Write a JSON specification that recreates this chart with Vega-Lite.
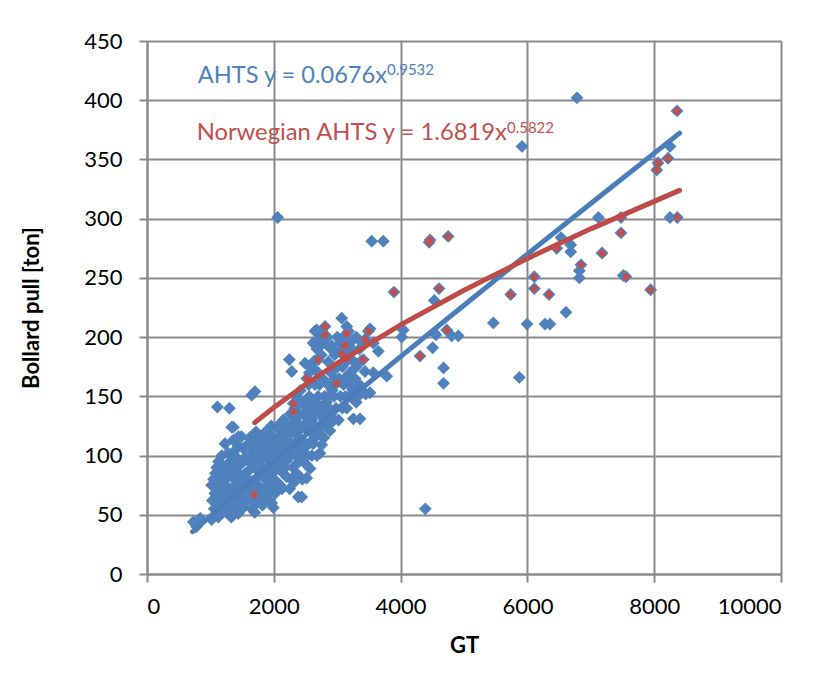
{
  "$schema": "https://vega.github.io/schema/vega-lite/v6.json",
  "width": 634,
  "height": 533,
  "autosize": {"type": "none"},
  "padding": {"left": 147, "top": 41, "right": 53, "bottom": 119},
  "background": "white",
  "config": {
    "view": {"stroke": null},
    "font": "Lato",
    "axis": {
      "gridColor": "#898989", "gridWidth": 2, "gridOpacity": 1,
      "domainColor": "#898989", "domainWidth": 2,
      "tickColor": "#898989", "tickWidth": 2, "tickSize": 8,
      "labelFont": "Lato", "labelFontSize": 22, "labelColor": "#000000",
      "titleFont": "Lato", "titleFontSize": 22, "titleFontWeight": "bold", "titleColor": "#000000"
    }
  },
  "datasets": {
    "ships": [
      {"gt":1690,"bp":67,"nor":1},{"gt":2308,"bp":144,"nor":1},{"gt":2308,"bp":137,"nor":1},{"gt":2519,"bp":165,"nor":1},{"gt":2990,"bp":161,"nor":1},{"gt":2703,"bp":181,"nor":1},{"gt":2808,"bp":209,"nor":1},{"gt":2808,"bp":202,"nor":1},{"gt":3150,"bp":203,"nor":1},{"gt":3491,"bp":205,"nor":1},{"gt":3438,"bp":198,"nor":1},{"gt":3123,"bp":193,"nor":1},{"gt":3071,"bp":186,"nor":1},{"gt":3150,"bp":182,"nor":1},{"gt":3412,"bp":181,"nor":1},{"gt":3896,"bp":238,"nor":1},{"gt":4306,"bp":184,"nor":1},{"gt":4464,"bp":282,"nor":1},{"gt":4450,"bp":280,"nor":1},{"gt":4750,"bp":285,"nor":1},{"gt":4606,"bp":241,"nor":1},{"gt":4727,"bp":206,"nor":1},{"gt":5736,"bp":236,"nor":1},{"gt":6109,"bp":251,"nor":1},{"gt":6109,"bp":241,"nor":1},{"gt":6341,"bp":236,"nor":1},{"gt":6462,"bp":275,"nor":1},{"gt":6845,"bp":261,"nor":1},{"gt":7177,"bp":271,"nor":1},{"gt":7476,"bp":301,"nor":1},{"gt":7476,"bp":288,"nor":1},{"gt":7555,"bp":251,"nor":1},{"gt":7944,"bp":240,"nor":1},{"gt":8364,"bp":301,"nor":1},{"gt":8360,"bp":391,"nor":1},{"gt":8218,"bp":351,"nor":1},{"gt":8060,"bp":347,"nor":1},{"gt":8040,"bp":341,"nor":1},
      {"gt":730,"bp":44,"nor":0},{"gt":780,"bp":40,"nor":0},{"gt":840,"bp":47,"nor":0},{"gt":1020,"bp":46,"nor":0},{"gt":1125,"bp":48,"nor":0},{"gt":1150,"bp":54,"nor":0},{"gt":1440,"bp":51,"nor":0},{"gt":1520,"bp":56,"nor":0},
      {"gt":1110,"bp":141,"nor":0},{"gt":1300,"bp":140,"nor":0},{"gt":1651,"bp":151,"nor":0},{"gt":1703,"bp":154,"nor":0},{"gt":1362,"bp":124,"nor":0},{"gt":1336,"bp":124,"nor":0},{"gt":1441,"bp":116,"nor":0},
      {"gt":2061,"bp":301,"nor":0},{"gt":3544,"bp":281,"nor":0},{"gt":3728,"bp":281,"nor":0},{"gt":5915,"bp":361,"nor":0},{"gt":6782,"bp":402,"nor":0},{"gt":8250,"bp":361,"nor":0},{"gt":8249,"bp":301,"nor":0},{"gt":7120,"bp":301,"nor":0},
      {"gt":6530,"bp":284,"nor":0},{"gt":6683,"bp":278,"nor":0},{"gt":6683,"bp":272,"nor":0},{"gt":6820,"bp":256,"nor":0},{"gt":6820,"bp":250,"nor":0},{"gt":7513,"bp":252,"nor":0},{"gt":6609,"bp":221,"nor":0},{"gt":5463,"bp":212,"nor":0},{"gt":5994,"bp":211,"nor":0},{"gt":6278,"bp":211,"nor":0},{"gt":6356,"bp":211,"nor":0},
      {"gt":4532,"bp":231,"nor":0},{"gt":4558,"bp":202,"nor":0},{"gt":4806,"bp":201,"nor":0},{"gt":4910,"bp":201,"nor":0},{"gt":4043,"bp":206,"nor":0},{"gt":4017,"bp":200,"nor":0},{"gt":4506,"bp":191,"nor":0},{"gt":4677,"bp":174,"nor":0},{"gt":4677,"bp":161,"nor":0},{"gt":5873,"bp":166,"nor":0},{"gt":4390,"bp":55,"nor":0},
      {"gt":3071,"bp":216,"nor":0},{"gt":2650,"bp":205,"nor":0},{"gt":2755,"bp":205,"nor":0},{"gt":3150,"bp":209,"nor":0},{"gt":3517,"bp":207,"nor":0},{"gt":2676,"bp":206,"nor":0},{"gt":2886,"bp":191,"nor":0},{"gt":2245,"bp":181,"nor":0},{"gt":2282,"bp":171,"nor":0},{"gt":2492,"bp":178,"nor":0},{"gt":2571,"bp":175,"nor":0},{"gt":2939,"bp":172,"nor":0},{"gt":3150,"bp":167,"nor":0},{"gt":3438,"bp":171,"nor":0},{"gt":3649,"bp":188,"nor":0},{"gt":3570,"bp":195,"nor":0},{"gt":2860,"bp":179,"nor":0},{"gt":3255,"bp":131,"nor":0},{"gt":3360,"bp":131,"nor":0},{"gt":3781,"bp":167,"nor":0},{"gt":3570,"bp":170,"nor":0},{"gt":3517,"bp":153,"nor":0},{"gt":3450,"bp":152,"nor":0},{"gt":2886,"bp":121,"nor":0},
      {"gt":1050,"bp":80,"nor":0},{"gt":1100,"bp":74,"nor":0},{"gt":1020,"bp":75,"nor":0},{"gt":1070,"bp":68,"nor":0},{"gt":1200,"bp":84,"nor":0},{"gt":1210,"bp":60,"nor":0},{"gt":1260,"bp":92,"nor":0},{"gt":1280,"bp":102,"nor":0},{"gt":1310,"bp":95,"nor":0},{"gt":1310,"bp":72,"nor":0},{"gt":1360,"bp":81,"nor":0},{"gt":1360,"bp":113,"nor":0},{"gt":1410,"bp":64,"nor":0},{"gt":1440,"bp":108,"nor":0},{"gt":1490,"bp":116,"nor":0},{"gt":1150,"bp":65,"nor":0},{"gt":1250,"bp":70,"nor":0},{"gt":1300,"bp":60,"nor":0},{"gt":1350,"bp":55,"nor":0},{"gt":1400,"bp":75,"nor":0},{"gt":1450,"bp":85,"nor":0},{"gt":1480,"bp":95,"nor":0},{"gt":1100,"bp":90,"nor":0},{"gt":1180,"bp":100,"nor":0},{"gt":1230,"bp":110,"nor":0},{"gt":1330,"bp":100,"nor":0},{"gt":1380,"bp":90,"nor":0},{"gt":1500,"bp":70,"nor":0},{"gt":1470,"bp":60,"nor":0},{"gt":1150,"bp":78,"nor":0},{"gt":1280,"bp":82,"nor":0},{"gt":1390,"bp":68,"nor":0},
      {"gt":1570,"bp":74,"nor":0},{"gt":1570,"bp":99,"nor":0},{"gt":1625,"bp":94,"nor":0},{"gt":1730,"bp":60,"nor":0},{"gt":1782,"bp":96,"nor":0},{"gt":1835,"bp":63,"nor":0},{"gt":1888,"bp":102,"nor":0},{"gt":1940,"bp":74,"nor":0},{"gt":1966,"bp":60,"nor":0},{"gt":1993,"bp":56,"nor":0},{"gt":2019,"bp":68,"nor":0},{"gt":1550,"bp":85,"nor":0},{"gt":1600,"bp":65,"nor":0},{"gt":1650,"bp":78,"nor":0},{"gt":1700,"bp":90,"nor":0},{"gt":1750,"bp":75,"nor":0},{"gt":1800,"bp":85,"nor":0},{"gt":1850,"bp":110,"nor":0},{"gt":1900,"bp":90,"nor":0},{"gt":1950,"bp":95,"nor":0},{"gt":1600,"bp":110,"nor":0},{"gt":1680,"bp":105,"nor":0},{"gt":1720,"bp":120,"nor":0},{"gt":1780,"bp":70,"nor":0},{"gt":1820,"bp":58,"nor":0},{"gt":1870,"bp":80,"nor":0},{"gt":1920,"bp":115,"nor":0},{"gt":1960,"bp":125,"nor":0},{"gt":1650,"bp":55,"nor":0},{"gt":1700,"bp":52,"nor":0},{"gt":1880,"bp":66,"nor":0},{"gt":1760,"bp":105,"nor":0},{"gt":1540,"bp":60,"nor":0},{"gt":1980,"bp":85,"nor":0},{"gt":1940,"bp":123,"nor":0},{"gt":2045,"bp":124,"nor":0},
      {"gt":2098,"bp":108,"nor":0},{"gt":2256,"bp":119,"nor":0},{"gt":2413,"bp":113,"nor":0},{"gt":2519,"bp":122,"nor":0},{"gt":2203,"bp":82,"nor":0},{"gt":2334,"bp":78,"nor":0},{"gt":2361,"bp":85,"nor":0},{"gt":2203,"bp":96,"nor":0},{"gt":2361,"bp":99,"nor":0},{"gt":2519,"bp":92,"nor":0},{"gt":2387,"bp":65,"nor":0},{"gt":2440,"bp":65,"nor":0},{"gt":2050,"bp":90,"nor":0},{"gt":2100,"bp":75,"nor":0},{"gt":2150,"bp":130,"nor":0},{"gt":2250,"bp":100,"nor":0},{"gt":2300,"bp":125,"nor":0},{"gt":2350,"bp":150,"nor":0},{"gt":2400,"bp":135,"nor":0},{"gt":2450,"bp":105,"nor":0},{"gt":2480,"bp":145,"nor":0},{"gt":2050,"bp":105,"nor":0},{"gt":2120,"bp":118,"nor":0},{"gt":2320,"bp":110,"nor":0},{"gt":2420,"bp":155,"nor":0},{"gt":2470,"bp":125,"nor":0},{"gt":2100,"bp":95,"nor":0},{"gt":2150,"bp":85,"nor":0},{"gt":2250,"bp":72,"nor":0},{"gt":2300,"bp":90,"nor":0},{"gt":2400,"bp":95,"nor":0},{"gt":2450,"bp":80,"nor":0},{"gt":2500,"bp":110,"nor":0},{"gt":2160,"bp":105,"nor":0},{"gt":2380,"bp":120,"nor":0},{"gt":2260,"bp":135,"nor":0},
      {"gt":2519,"bp":81,"nor":0},{"gt":2571,"bp":89,"nor":0},{"gt":2729,"bp":102,"nor":0},{"gt":2755,"bp":109,"nor":0},{"gt":2550,"bp":130,"nor":0},{"gt":2600,"bp":145,"nor":0},{"gt":2650,"bp":160,"nor":0},{"gt":2700,"bp":120,"nor":0},{"gt":2750,"bp":140,"nor":0},{"gt":2800,"bp":150,"nor":0},{"gt":2850,"bp":160,"nor":0},{"gt":2900,"bp":135,"nor":0},{"gt":2950,"bp":150,"nor":0},{"gt":2600,"bp":100,"nor":0},{"gt":2650,"bp":115,"nor":0},{"gt":2700,"bp":170,"nor":0},{"gt":2550,"bp":160,"nor":0},{"gt":2600,"bp":175,"nor":0},{"gt":2750,"bp":185,"nor":0},{"gt":2800,"bp":130,"nor":0},{"gt":2850,"bp":125,"nor":0},{"gt":2950,"bp":130,"nor":0},{"gt":2550,"bp":110,"nor":0},{"gt":2650,"bp":135,"nor":0},{"gt":2700,"bp":150,"nor":0},{"gt":2900,"bp":170,"nor":0},{"gt":2980,"bp":140,"nor":0},{"gt":2620,"bp":195,"nor":0},{"gt":2700,"bp":198,"nor":0},{"gt":2770,"bp":165,"nor":0},{"gt":2580,"bp":120,"nor":0},{"gt":2680,"bp":100,"nor":0},{"gt":2913,"bp":193,"nor":0},{"gt":3044,"bp":189,"nor":0},
      {"gt":3050,"bp":150,"nor":0},{"gt":3100,"bp":160,"nor":0},{"gt":3150,"bp":140,"nor":0},{"gt":3200,"bp":170,"nor":0},{"gt":3250,"bp":180,"nor":0},{"gt":3300,"bp":175,"nor":0},{"gt":3350,"bp":190,"nor":0},{"gt":3050,"bp":195,"nor":0},{"gt":3100,"bp":200,"nor":0},{"gt":3200,"bp":195,"nor":0},{"gt":3300,"bp":200,"nor":0},{"gt":3020,"bp":130,"nor":0},{"gt":3080,"bp":140,"nor":0},{"gt":3150,"bp":190,"nor":0},{"gt":3250,"bp":155,"nor":0},{"gt":3000,"bp":175,"nor":0},{"gt":3120,"bp":178,"nor":0},{"gt":3200,"bp":150,"nor":0},{"gt":3300,"bp":145,"nor":0},{"gt":3350,"bp":160,"nor":0},
      {"gt":1120,"bp":60,"nor":0},{"gt":1180,"bp":70,"nor":0},{"gt":1240,"bp":80,"nor":0},{"gt":1320,"bp":88,"nor":0},{"gt":1420,"bp":98,"nor":0},{"gt":1520,"bp":106,"nor":0},{"gt":1620,"bp":88,"nor":0},{"gt":1680,"bp":70,"nor":0},{"gt":1740,"bp":88,"nor":0},{"gt":1820,"bp":98,"nor":0},{"gt":1900,"bp":105,"nor":0},{"gt":2000,"bp":100,"nor":0},{"gt":2080,"bp":115,"nor":0},{"gt":2180,"bp":125,"nor":0},{"gt":2230,"bp":110,"nor":0},{"gt":2330,"bp":140,"nor":0},{"gt":2430,"bp":145,"nor":0},{"gt":2530,"bp":140,"nor":0},{"gt":2600,"bp":130,"nor":0},{"gt":2560,"bp":150,"nor":0},{"gt":2640,"bp":125,"nor":0},{"gt":2720,"bp":135,"nor":0},{"gt":2820,"bp":140,"nor":0},{"gt":2880,"bp":150,"nor":0},{"gt":2200,"bp":115,"nor":0},{"gt":2000,"bp":80,"nor":0},{"gt":1900,"bp":75,"nor":0},{"gt":1850,"bp":70,"nor":0},{"gt":1400,"bp":105,"nor":0},{"gt":1480,"bp":78,"nor":0},{"gt":1560,"bp":66,"nor":0},{"gt":1260,"bp":52,"nor":0},
      {"gt":1030,"bp":62,"nor":0},{"gt":1080,"bp":85,"nor":0},{"gt":1130,"bp":95,"nor":0},{"gt":1170,"bp":88,"nor":0},{"gt":1220,"bp":75,"nor":0},{"gt":1270,"bp":65,"nor":0},{"gt":1340,"bp":70,"nor":0},{"gt":1370,"bp":60,"nor":0},{"gt":1430,"bp":72,"nor":0},{"gt":1460,"bp":92,"nor":0},{"gt":1500,"bp":82,"nor":0},{"gt":1520,"bp":95,"nor":0},{"gt":1060,"bp":55,"nor":0},{"gt":1190,"bp":52,"nor":0},{"gt":1330,"bp":48,"nor":0},{"gt":1420,"bp":58,"nor":0},
      {"gt":1580,"bp":80,"nor":0},{"gt":1630,"bp":100,"nor":0},{"gt":1660,"bp":62,"nor":0},{"gt":1710,"bp":80,"nor":0},{"gt":1770,"bp":62,"nor":0},{"gt":1790,"bp":92,"nor":0},{"gt":1840,"bp":88,"nor":0},{"gt":1860,"bp":100,"nor":0},{"gt":1910,"bp":62,"nor":0},{"gt":1930,"bp":85,"nor":0},{"gt":1970,"bp":108,"nor":0},{"gt":1990,"bp":115,"nor":0},{"gt":1620,"bp":115,"nor":0},{"gt":1700,"bp":112,"nor":0},{"gt":1800,"bp":115,"nor":0},{"gt":1870,"bp":120,"nor":0},{"gt":1540,"bp":98,"nor":0},{"gt":1750,"bp":98,"nor":0},
      {"gt":2020,"bp":110,"nor":0},{"gt":2070,"bp":125,"nor":0},{"gt":2110,"bp":100,"nor":0},{"gt":2140,"bp":112,"nor":0},{"gt":2180,"bp":90,"nor":0},{"gt":2230,"bp":125,"nor":0},{"gt":2270,"bp":110,"nor":0},{"gt":2300,"bp":102,"nor":0},{"gt":2350,"bp":118,"nor":0},{"gt":2380,"bp":105,"nor":0},{"gt":2420,"bp":125,"nor":0},{"gt":2460,"bp":135,"nor":0},{"gt":2490,"bp":100,"nor":0},{"gt":2040,"bp":78,"nor":0},{"gt":2130,"bp":72,"nor":0},{"gt":2280,"bp":80,"nor":0},{"gt":2340,"bp":130,"nor":0},
      {"gt":2530,"bp":100,"nor":0},{"gt":2580,"bp":140,"nor":0},{"gt":2620,"bp":110,"nor":0},{"gt":2670,"bp":145,"nor":0},{"gt":2720,"bp":160,"nor":0},{"gt":2760,"bp":125,"nor":0},{"gt":2790,"bp":115,"nor":0},{"gt":2830,"bp":145,"nor":0},{"gt":2870,"bp":140,"nor":0},{"gt":2920,"bp":155,"nor":0},{"gt":2960,"bp":165,"nor":0},{"gt":2560,"bp":170,"nor":0},{"gt":2640,"bp":180,"nor":0},{"gt":2680,"bp":190,"nor":0},{"gt":2780,"bp":195,"nor":0},{"gt":2840,"bp":200,"nor":0},{"gt":2960,"bp":185,"nor":0},{"gt":3000,"bp":200,"nor":0},
      {"gt":3030,"bp":165,"nor":0},{"gt":3080,"bp":175,"nor":0},{"gt":3130,"bp":150,"nor":0},{"gt":3180,"bp":160,"nor":0},{"gt":3230,"bp":190,"nor":0},{"gt":3280,"bp":165,"nor":0},{"gt":3330,"bp":150,"nor":0},{"gt":3380,"bp":180,"nor":0},{"gt":3400,"bp":195,"nor":0},{"gt":3180,"bp":205,"nor":0}
    ],
    "trend": [
      {"series":"AHTS","gt":720,"bp":35.7},{"series":"AHTS","gt":1000,"bp":48.9},{"series":"AHTS","gt":1500,"bp":72.0},{"series":"AHTS","gt":2000,"bp":94.8},{"series":"AHTS","gt":3000,"bp":139.5},{"series":"AHTS","gt":4000,"bp":183.5},{"series":"AHTS","gt":5000,"bp":226.9},{"series":"AHTS","gt":6000,"bp":270.1},{"series":"AHTS","gt":7000,"bp":312.8},{"series":"AHTS","gt":8400,"bp":372.2},
      {"series":"Norwegian AHTS","gt":1700,"bp":127.8},{"series":"Norwegian AHTS","gt":2000,"bp":140.5},{"series":"Norwegian AHTS","gt":2500,"bp":160.0},{"series":"Norwegian AHTS","gt":3000,"bp":177.9},{"series":"Norwegian AHTS","gt":4000,"bp":210.3},{"series":"Norwegian AHTS","gt":5000,"bp":239.5},{"series":"Norwegian AHTS","gt":6000,"bp":266.4},{"series":"Norwegian AHTS","gt":7000,"bp":291.4},{"series":"Norwegian AHTS","gt":8400,"bp":323.9}
    ]
  },
  "layer": [
    {
      "data": {"name": "ships"},
      "mark": {"type": "point", "shape": "diamond", "filled": true, "size": 165, "color": "#4F81BD", "opacity": 1},
      "encoding": {
        "x": {"field": "gt", "type": "quantitative",
              "scale": {"domain": [0, 10000], "nice": false},
              "axis": {"values": [0, 2000, 4000, 6000, 8000, 10000], "format": "d", "title": "GT", "labelPadding": 14, "titlePadding": 18}},
        "y": {"field": "bp", "type": "quantitative",
              "scale": {"domain": [0, 450], "nice": false},
              "axis": {"values": [0, 50, 100, 150, 200, 250, 300, 350, 400, 450], "title": "Bollard pull [ton]", "labelPadding": 17, "titlePadding": 40}}
      }
    },
    {
      "data": {"name": "ships"},
      "transform": [{"filter": "datum.nor == 1"}],
      "mark": {"type": "point", "shape": "circle", "filled": true, "size": 50, "color": "#C0504D", "opacity": 1},
      "encoding": {
        "x": {"field": "gt", "type": "quantitative"},
        "y": {"field": "bp", "type": "quantitative"}
      }
    },
    {
      "data": {"name": "trend"},
      "mark": {"type": "line", "strokeWidth": 5, "strokeCap": "round"},
      "encoding": {
        "x": {"field": "gt", "type": "quantitative"},
        "y": {"field": "bp", "type": "quantitative"},
        "color": {"field": "series", "type": "nominal", "scale": {"domain": ["AHTS", "Norwegian AHTS"], "range": ["#4A7EBB", "#BE4B48"]}, "legend": null}
      }
    },
    {
      "data": {"values": [{}]},
      "mark": {"type": "text", "text": "AHTS y = 0.0676x", "align": "right", "baseline": "alphabetic", "fontSize": 23.6, "font": "Lato", "color": "#4F81BD"},
      "encoding": {"x": {"datum": 3785}, "y": {"datum": 414.9}}
    },
    {
      "data": {"values": [{}]},
      "mark": {"type": "text", "text": "0.9532", "align": "left", "baseline": "alphabetic", "fontSize": 15, "font": "Lato", "color": "#4F81BD"},
      "encoding": {"x": {"datum": 3785}, "y": {"datum": 421.3}}
    },
    {
      "data": {"values": [{}]},
      "mark": {"type": "text", "text": "Norwegian AHTS y = 1.6819x", "align": "right", "baseline": "alphabetic", "fontSize": 23.8, "font": "Lato", "color": "#C0504D"},
      "encoding": {"x": {"datum": 5678}, "y": {"datum": 366.4}}
    },
    {
      "data": {"values": [{}]},
      "mark": {"type": "text", "text": "0.5822", "align": "left", "baseline": "alphabetic", "fontSize": 15, "font": "Lato", "color": "#C0504D"},
      "encoding": {"x": {"datum": 5678}, "y": {"datum": 372.5}}
    }
  ]
}
